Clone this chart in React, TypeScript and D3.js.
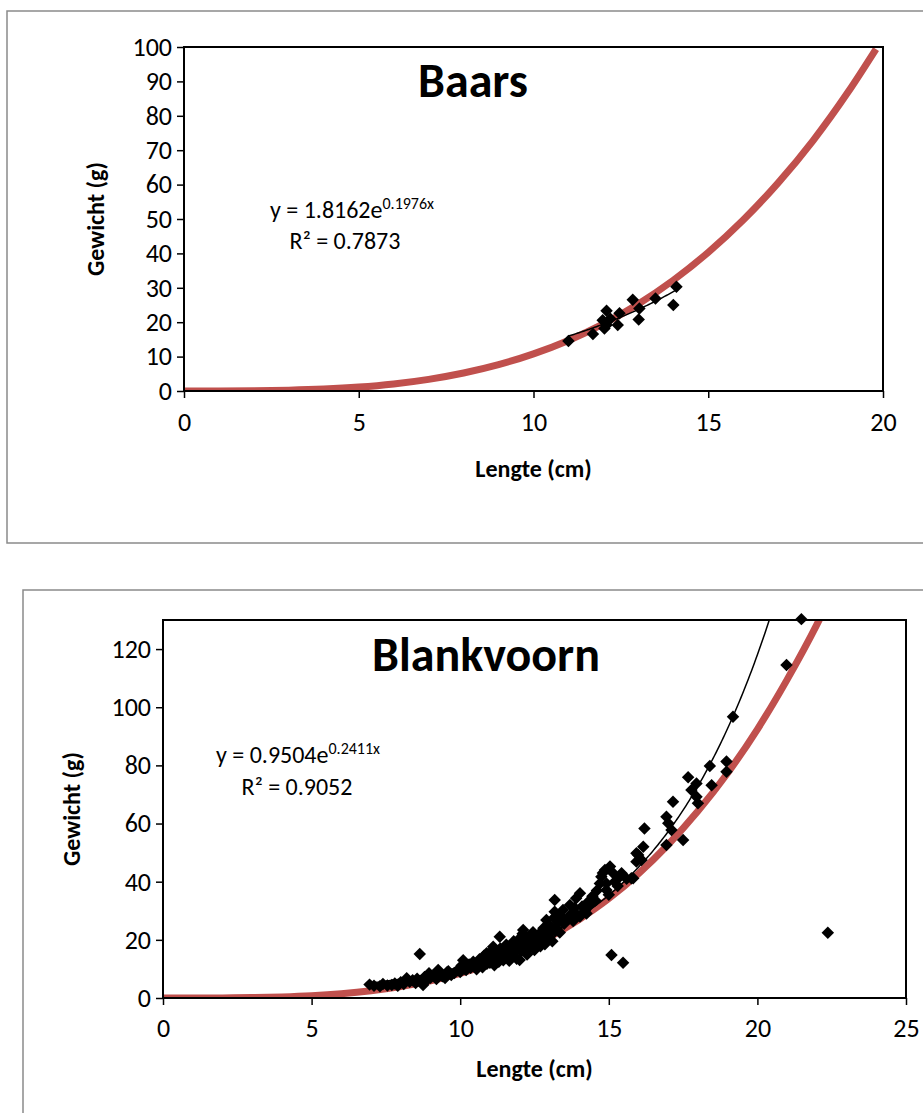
import React, { useEffect, useRef } from "react";
import * as d3 from "d3";

const FONT = "Carlito, Calibri, 'Open Sans', sans-serif";

// ---- Baars ----
const baarsLength = [11.0, 11.7, 11.98, 12.03, 12.09, 12.09, 12.2, 12.41, 12.46, 12.84, 13.01, 13.03, 13.49, 14.0, 14.09];
const baarsWeight = [14.5, 16.6, 20.6, 18.2, 19.2, 23.3, 21.0, 19.2, 22.6, 26.5, 20.8, 24.0, 26.9, 25.0, 30.3];
const baarsRefLength = [0, 1, 2, 3, 4, 5, 6, 7, 8, 9, 10, 11, 12, 13, 14, 15, 16, 17, 18, 19, 19.8];
const baarsRefWeight = [0, 0.006, 0.06, 0.22, 0.55, 1.13, 2.05, 3.39, 5.23, 7.66, 10.8, 14.7, 19.5, 25.3, 32.2, 40.3, 49.7, 60.5, 72.8, 86.9, 99.4];
const baarsTrendA = 1.8162;
const baarsTrendB = 0.1976;
const baarsR2 = "0.7873";

// ---- Blankvoorn ----
const blankLength = [
  6.95, 7.1, 7.3, 7.4, 7.55, 7.7, 7.8, 7.9, 8.0, 8.1, 8.2, 8.3, 8.4, 8.5, 8.55, 8.64, 8.7, 8.75, 8.8, 8.9,
  8.95, 9.0, 9.1, 9.2, 9.26, 9.3, 9.4, 9.49, 9.55, 9.6, 9.7, 9.8, 9.9, 10.0, 10.05, 10.1, 10.15, 10.2, 10.3, 10.35,
  10.44, 10.5, 10.55, 10.6, 10.65, 10.7, 10.75, 10.8, 10.85, 10.89, 10.9, 10.95, 11.0, 11.05, 11.1, 11.11, 11.15, 11.2, 11.25, 11.3,
  11.33, 11.35, 11.4, 11.45, 11.5, 11.55, 11.6, 11.65, 11.7, 11.75, 11.78, 11.8, 11.85, 11.9, 11.95, 12.0, 12.0, 12.05, 12.1, 12.12,
  12.15, 12.2, 12.25, 12.3, 12.34, 12.4, 12.45, 12.5, 12.55, 12.6, 12.65, 12.68, 12.7, 12.75, 12.8, 12.85, 12.9, 12.9, 12.95, 13.0,
  13.05, 13.1, 13.15, 13.18, 13.18, 13.2, 13.24, 13.3, 13.35, 13.4, 13.46, 13.5, 13.58, 13.65, 13.69, 13.75, 13.8, 13.85, 13.9, 13.95,
  14.03, 14.03, 14.1, 14.2, 14.25, 14.3, 14.36, 14.45, 14.55, 14.6, 14.7, 14.75, 14.8, 14.87, 14.92, 14.92, 15.0, 15.04, 15.09, 15.15,
  15.2, 15.3, 15.37, 15.43, 15.48, 15.6, 15.76, 15.82, 15.93, 15.93, 15.99, 16.1, 16.16, 16.2, 16.94, 16.94, 17.0, 17.11, 17.16, 17.5,
  17.67, 17.78, 17.95, 17.95, 18.0, 18.4, 18.46, 18.96, 18.96, 19.18, 20.98, 21.48, 22.37,
];
const blankWeight = [
  4.6, 4.2, 4.0, 4.8, 4.3, 4.5, 5.0, 4.2, 5.4, 4.8, 6.8, 5.6, 6.1, 5.2, 6.6, 15.1, 5.8, 4.5, 7.2, 6.4,
  8.5, 7.0, 7.8, 6.5, 9.6, 8.2, 7.5, 6.9, 8.8, 9.2, 7.9, 8.6, 9.5, 8.9, 11.2, 13.0, 10.1, 9.6, 11.5, 10.4,
  12.5, 11.0, 9.9, 12.2, 13.3, 11.4, 10.6, 14.5, 12.6, 15.4, 11.8, 13.8, 12.1, 16.1, 14.0, 17.6, 11.3, 13.2, 15.6, 12.5,
  21.1, 17.0, 14.6, 13.0, 16.4, 18.3, 15.2, 12.8, 17.4, 14.1, 15.4, 19.5, 16.8, 13.5, 18.6, 13.1, 20.5, 16.0, 22.1, 23.4,
  17.2, 19.3, 15.0, 21.0, 17.6, 19.8, 22.6, 16.5, 18.8, 21.5, 19.0, 22.2, 17.8, 20.5, 24.0, 18.5, 26.8, 19.9, 22.0, 21.0,
  24.5, 19.5, 27.5, 33.7, 29.7, 23.0, 24.0, 26.0, 22.5, 28.2, 30.3, 25.5, 26.8, 27.8, 32.0, 29.0, 26.5, 31.0, 34.3, 28.5,
  36.0, 28.0, 31.5, 30.0, 29.1, 33.0, 32.0, 35.0, 33.5, 37.0, 39.4, 41.7, 43.0, 44.0, 37.1, 39.4, 35.5, 45.2, 14.8, 42.9,
  40.0, 38.5, 41.7, 42.9, 12.1, 41.0, 41.2, 41.2, 46.9, 49.8, 49.2, 47.5, 52.0, 58.3, 62.3, 52.6, 60.1, 57.8, 67.5, 54.3,
  75.9, 71.5, 73.8, 69.2, 67.0, 79.8, 73.2, 81.3, 77.8, 96.7, 114.5, 130.3, 22.4,
];
const blankRefLength = [0, 1, 2, 3, 4, 5, 6, 7, 8, 9, 10, 11, 12, 13, 14, 15, 16, 17, 18, 19, 20, 21, 22, 22.5];
const blankRefWeight = [0, 0.003, 0.033, 0.13, 0.36, 0.77, 1.45, 2.47, 3.91, 5.87, 8.45, 11.7, 15.8, 20.9, 27.0, 34.2, 42.8, 52.8, 64.3, 77.4, 92.4, 109.5, 128.4, 138.8];
const blankTrendA = 0.9504;
const blankTrendB = 0.2411;
const blankR2 = "0.9052";

type Cfg = {
  id: string;
  frame: [number, number, number, number];
  plot: { left: number; right: number; top: number; bottom: number };
  xMax: number;
  yMax: number;
  xTicks: number[];
  yTicks: number[];
  title: string;
  titlePos: [number, number];
  len: number[];
  wt: number[];
  refLen: number[];
  refWt: number[];
  a: number;
  b: number;
  aText: string;
  bText: string;
  r2: string;
  eqPos: [number, number];
  r2Pos: [number, number];
  xTickPad: number;
  xLabelY: number;
  yLabelX: number;
};

function drawChart(svg: d3.Selection<SVGSVGElement, unknown, null, undefined>, c: Cfg) {
  const { left, right, top, bottom } = c.plot;
  const g = svg.append("g");

  g.append("rect")
    .attr("x", c.frame[0]).attr("y", c.frame[1])
    .attr("width", c.frame[2]).attr("height", c.frame[3])
    .attr("fill", "#fff").attr("stroke", "#8a8a8a").attr("stroke-width", 1.5);

  const x = d3.scaleLinear().domain([0, c.xMax]).range([left, right]);
  const y = d3.scaleLinear().domain([0, c.yMax]).range([bottom, top]);

  g.append("clipPath").attr("id", c.id + "-clip")
    .append("rect").attr("x", left).attr("y", top)
    .attr("width", right - left).attr("height", bottom - top);

  // axes
  const yAxis = g.append("g").attr("transform", `translate(${left},0)`)
    .call(d3.axisLeft(y).tickValues(c.yTicks).tickSize(7).tickPadding(5).tickSizeOuter(0));
  const xAxis = g.append("g").attr("transform", `translate(0,${bottom})`)
    .call(d3.axisBottom(x).tickValues(c.xTicks).tickSize(7).tickPadding(c.xTickPad).tickSizeOuter(0));
  [yAxis, xAxis].forEach((ax) => {
    ax.select(".domain").remove();
    ax.selectAll("line").attr("stroke", "#000").attr("stroke-width", 1.5);
    ax.selectAll("text").attr("font-family", FONT).attr("font-size", 26).attr("fill", "#000");
  });

  const plot = g.append("g").attr("clip-path", `url(#${c.id}-clip)`);

  // reference curve
  const line = d3.line<number>()
    .x((_, i) => x(c.refLen[i]))
    .y((d) => y(d))
    .curve(d3.curveMonotoneX);
  plot.append("path").attr("d", line(c.refWt))
    .attr("fill", "none").attr("stroke", "#C0504D").attr("stroke-width", 7);

  // exponential trendline over the data range
  const xs = d3.range(d3.min(c.len)!, d3.max(c.len)! + 0.001, 0.05);
  const trend = d3.line<number>().x((d) => x(d)).y((d) => y(c.a * Math.exp(c.b * d)));
  plot.append("path").attr("d", trend(xs))
    .attr("fill", "none").attr("stroke", "#000").attr("stroke-width", 1.5);

  // plot area border
  g.append("rect").attr("x", left).attr("y", top)
    .attr("width", right - left).attr("height", bottom - top)
    .attr("fill", "none").attr("stroke", "#000").attr("stroke-width", 2);

  // points
  const diamond = d3.symbol().type(d3.symbolSquare).size(78);
  g.append("g").selectAll("path").data(c.len).join("path")
    .attr("d", diamond()!)
    .attr("transform", (d, i) => `translate(${x(d)},${y(c.wt[i])}) rotate(45)`)
    .attr("fill", "#000");

  // title
  g.append("text").attr("x", c.titlePos[0]).attr("y", c.titlePos[1])
    .attr("text-anchor", "middle").attr("font-family", FONT)
    .attr("font-weight", "bold").attr("font-size", 48).text(c.title);

  // equation
  const eq = g.append("text").attr("x", c.eqPos[0]).attr("y", c.eqPos[1])
    .attr("text-anchor", "middle").attr("font-family", FONT).attr("font-size", 24);
  eq.append("tspan").text(`y = ${c.aText}e`);
  eq.append("tspan").attr("dy", -9).attr("font-size", 16).text(`${c.bText}x`);
  g.append("text").attr("x", c.r2Pos[0]).attr("y", c.r2Pos[1])
    .attr("text-anchor", "middle").attr("font-family", FONT).attr("font-size", 24)
    .text(`R² = ${c.r2}`);

  // axis titles
  g.append("text").attr("x", (left + right) / 2).attr("y", c.xLabelY)
    .attr("text-anchor", "middle").attr("font-family", FONT)
    .attr("font-weight", "bold").attr("font-size", 24).text("Lengte (cm)");
  g.append("text")
    .attr("transform", `translate(${c.yLabelX},${(top + bottom) / 2}) rotate(-90)`)
    .attr("text-anchor", "middle").attr("font-family", FONT)
    .attr("font-weight", "bold").attr("font-size", 24).text("Gewicht (g)");
}

export default function App() {
  const ref = useRef<SVGSVGElement>(null);

  useEffect(() => {
    const svg = d3.select(ref.current!);
    svg.selectAll("*").remove();

    drawChart(svg, {
      id: "baars",
      frame: [7, 11, 930, 532],
      plot: { left: 184, right: 883, top: 47, bottom: 391 },
      xMax: 20, yMax: 100,
      xTicks: [0, 5, 10, 15, 20],
      yTicks: d3.range(0, 101, 10),
      title: "Baars", titlePos: [473, 97],
      len: baarsLength, wt: baarsWeight,
      refLen: baarsRefLength, refWt: baarsRefWeight,
      a: baarsTrendA, b: baarsTrendB,
      aText: "1.8162", bText: "0.1976", r2: baarsR2,
      eqPos: [352, 218], r2Pos: [345, 249],
      xTickPad: 15,
      xLabelY: 477, yLabelX: 104,
    });

    drawChart(svg, {
      id: "blank",
      frame: [23, 590, 920, 540],
      plot: { left: 163, right: 906, top: 620, bottom: 998 },
      xMax: 25, yMax: 130,
      xTicks: [0, 5, 10, 15, 20, 25],
      yTicks: d3.range(0, 121, 20),
      title: "Blankvoorn", titlePos: [486, 671],
      len: blankLength, wt: blankWeight,
      refLen: blankRefLength, refWt: blankRefWeight,
      a: blankTrendA, b: blankTrendB,
      aText: "0.9504", bText: "0.2411", r2: blankR2,
      eqPos: [298, 763], r2Pos: [297, 795],
      xTickPad: 14,
      xLabelY: 1077, yLabelX: 80,
    });
  }, []);

  return (
    <svg
      ref={ref}
      width={923}
      height={1113}
      style={{ position: "absolute", left: 0, top: 0, background: "#fff" }}
    />
  );
}
